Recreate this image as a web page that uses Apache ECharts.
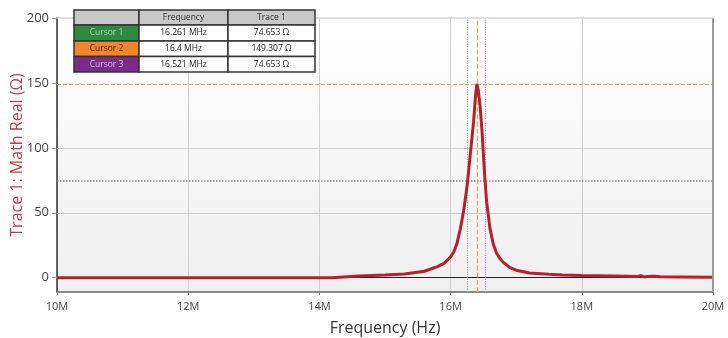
<!DOCTYPE html>
<html>
<head>
<meta charset="utf-8">
<script src="https://cdn.jsdelivr.net/npm/echarts@6/dist/echarts.min.js"></script>
<style>
  html, body { margin: 0; padding: 0; background: #fff; }
  #chart { width: 728px; height: 338px; }
</style>
</head>
<body>
<div id="chart"></div>
<script>
// trace (MHz, ohm)
const freqMHz = [10, 11, 12, 13, 14, 14.19, 14.2, 14.6, 15.0, 15.3, 15.6, 15.8, 15.9, 16.0, 16.05, 16.1, 16.15, 16.2, 16.25, 16.3, 16.35, 16.38, 16.4, 16.42, 16.45, 16.48, 16.52, 16.55, 16.6, 16.65, 16.7, 16.75, 16.8, 16.9, 17.0, 17.2, 17.5, 17.7, 18.0, 18.5, 18.85, 18.9, 18.95, 19.0, 19.1, 19.2, 19.5, 20];
const realOhm = [0, 0, 0, 0, 0, 0, 1.0, 1.3, 2.0, 2.8, 5, 8.5, 11, 16, 20, 27, 38, 52, 70, 95, 120, 140, 149.3, 145, 132, 112, 78, 58, 38, 26, 19, 15, 12, 8, 5.8, 3.6, 2.6, 2.1, 1.7, 1.3, 1.0, 1.5, 0.6, 0.9, 1.2, 0.7, 0.6, 0.4];

const yTicks = [0, 50, 100, 150, 200];

const cursorNames = ['Cursor 1', 'Cursor 2', 'Cursor 3'];
const cursorFreqMHz = [16.261, 16.4, 16.521];
const cursorValues = [74.653, 149.307, 74.653];
const cursorFreqText = ['16.261 MHz', '16.4 MHz', '16.521 MHz'];
const cursorValueText = ['74.653 Ω', '149.307 Ω', '74.653 Ω'];
const tableHeader = ['', 'Frequency', 'Trace 1'];

const cursorColors = ['#2f8a3f', '#f0862e', '#7a2b8b'];
const cursorLineColors = ['#7cc67c', '#f5a35c', '#c193d6'];
const cursorTextColors = ['#a9dfa9', '#4a2000', '#dcc0ea'];
const cursorLineTypes = ['dotted', 'dashed', 'dotted'];

const FONT = '"Open Sans", "Noto Sans", sans-serif';

// cursor table as graphic elements
const colX = [74, 139, 228, 315];
const rowY = [10, 25, 41, 56.5, 72];
const table = [];
for (let r = 0; r < 4; r++) {
  for (let c = 0; c < 3; c++) {
    let fill = '#ffffff', txt = '', txtColor = '#222';
    if (r === 0) {
      fill = '#c8c8c8';
      txt = tableHeader[c];
      txtColor = '#333';
    } else if (c === 0) {
      fill = cursorColors[r - 1];
      txt = cursorNames[r - 1];
      txtColor = cursorTextColors[r - 1];
    } else if (c === 1) {
      txt = cursorFreqText[r - 1];
    } else {
      txt = cursorValueText[r - 1];
    }
    table.push({
      type: 'rect',
      shape: { x: colX[c], y: rowY[r], width: colX[c + 1] - colX[c], height: rowY[r + 1] - rowY[r] },
      style: { fill: fill, stroke: '#333', lineWidth: 1.5 },
      z: 100
    });
    table.push({
      type: 'text',
      x: (colX[c] + colX[c + 1]) / 2,
      y: (rowY[r] + rowY[r + 1]) / 2,
      style: { text: txt, fill: txtColor, font: '8.5px ' + FONT, align: 'center', verticalAlign: 'middle' },
      z: 101
    });
  }
}

const traceData = freqMHz.map((f, i) => [f * 1e6, realOhm[i]]);

const markLines = [];
yTicks.filter(v => v === 50 || v === 100).forEach(v => {
  markLines.push({ yAxis: v, lineStyle: { color: '#cccccc', type: 'solid', width: 1 } });
});
markLines.push({ yAxis: 0, lineStyle: { color: '#222', type: 'solid', width: 1.2 } });
markLines.push({ yAxis: cursorValues[0], lineStyle: { color: '#8a8a8a', type: 'dotted', width: 1.5 } });
markLines.push({ yAxis: cursorValues[1], lineStyle: { color: cursorLineColors[1], type: 'dashed', width: 1 } });
cursorFreqMHz.forEach((f, i) => {
  markLines.push({ xAxis: f * 1e6, lineStyle: { color: cursorLineColors[i], type: cursorLineTypes[i], width: 1.2 } });
});

const option = {
  animation: false,
  textStyle: { fontFamily: FONT },
  grid: {
    left: 57, right: 15, top: 18, bottom: 46,
    outerBoundsMode: 'none',
    containLabel: false,
    show: true,
    borderWidth: 0,
    backgroundColor: new echarts.graphic.LinearGradient(0, 0, 0, 1, [
      { offset: 0, color: '#ffffff' },
      { offset: 1, color: '#efefef' }
    ])
  },
  xAxis: {
    type: 'value',
    min: 10e6,
    max: 20e6,
    interval: 2e6,
    name: 'Frequency (Hz)',
    nameLocation: 'middle',
    nameGap: 28,
    nameMoveOverlap: false,
    nameTextStyle: { fontSize: 16, color: '#333', fontFamily: FONT },
    axisLine: { show: true, onZero: false, lineStyle: { color: '#666', width: 1.5 } },
    axisTick: { show: true, length: 3, lineStyle: { color: '#888' } },
    axisLabel: { color: '#444', fontSize: 11, margin: 9, formatter: v => (v / 1e6) + 'M' },
    splitLine: { show: true, lineStyle: { color: '#d0d0d0', width: 1 } }
  },
  yAxis: {
    type: 'value',
    min: -11,
    max: 200,
    name: 'Trace 1: Math Real (Ω)',
    nameLocation: 'middle',
    nameGap: 32,
    nameMoveOverlap: false,
    nameTextStyle: { fontSize: 16, color: '#c43a4a', fontFamily: FONT },
    axisLine: { show: true, onZero: false, lineStyle: { color: '#333', width: 1.5 } },
    axisTick: { show: true, length: 5, customValues: yTicks, lineStyle: { color: '#999' } },
    axisLabel: { color: '#444', fontSize: 13, margin: 8, customValues: yTicks },
    splitLine: { show: false }
  },
  graphic: [
    // right and top frame of the plot
    { type: 'line', shape: { x1: 713, y1: 18, x2: 713, y2: 292 }, style: { stroke: '#9a9a9a', lineWidth: 2 }, z: 50 },
    { type: 'line', shape: { x1: 57, y1: 18, x2: 713, y2: 18 }, style: { stroke: '#d4d4d4', lineWidth: 1.5 }, z: 50 }
  ].concat(table),
  series: [
    {
      type: 'line',
      data: [],
      z: 1,
      markLine: {
        silent: true,
        symbol: 'none',
        label: { show: false },
        data: markLines
      }
    },
    {
      type: 'line',
      data: traceData,
      z: 5,
      showSymbol: false,
      lineStyle: { color: '#b5202e', width: 3 },
      itemStyle: { color: '#b5202e' }
    }
  ]
};

const chart = echarts.init(document.getElementById('chart'), null, { renderer: 'canvas' });
chart.setOption(option);
</script>
</body>
</html>
